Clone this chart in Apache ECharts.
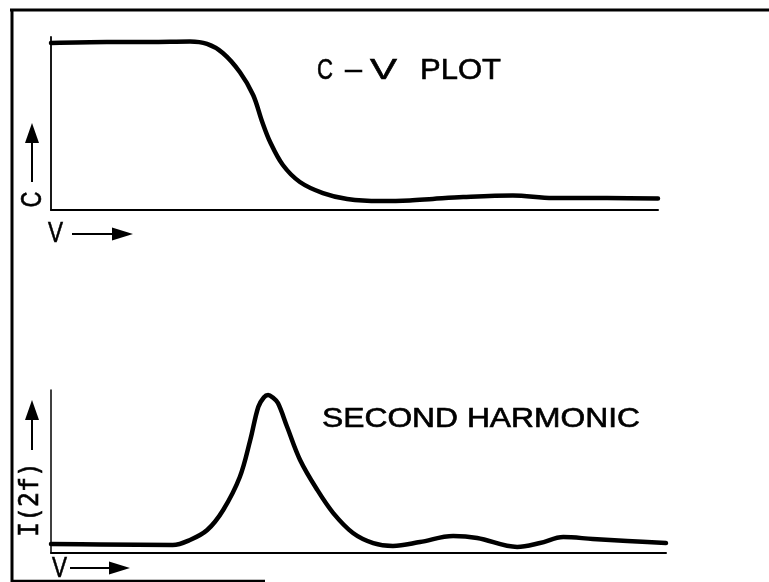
<!DOCTYPE html>
<html>
<head>
<meta charset="utf-8">
<script src="https://cdn.jsdelivr.net/npm/echarts@6/dist/echarts.min.js"></script>
<style>
  html, body { margin: 0; padding: 0; background: #fff; }
  #chart { width: 769px; height: 582px; }
</style>
</head>
<body>
<div id="chart"></div>
<script>
// C-V curve: bias voltage (arbitrary units, 0-100) vs. capacitance (% of full scale)
const cvVoltage = [0, 9.2, 16.3, 22.9, 25.7, 28.3, 31.1, 33.3, 34.8, 36.1, 38.2, 41.0, 44.8, 48.8, 54.2, 59.1, 62.9, 67.9, 76.1, 82.7, 91.6, 100];
const cvCapacitance = [96.5, 97.1, 97.1, 97.4, 96.0, 90.8, 79.8, 66.5, 50.9, 39.3, 26.0, 16.2, 9.8, 6.4, 5.2, 5.5, 6.4, 7.5, 8.4, 6.9, 6.9, 6.6];

// Second-harmonic current I(2f) over the same bias sweep
const shVoltage = [0, 8.0, 19.8, 22.6, 25.4, 28.0, 30.7, 32.4, 33.7, 34.6, 35.3, 36.0, 36.9, 38.4, 40.5, 43.3, 45.9, 49.1, 52.4, 55.6, 60.0, 65.4, 69.3, 75.8, 79.5, 83.3, 88.1, 93.7, 100];
const shCurrent = [5.5, 5.2, 4.9, 8.0, 14.1, 26.4, 46.6, 69.3, 89.6, 95.4, 96.9, 95.6, 92.0, 77.3, 57.1, 38.7, 24.5, 12.3, 6.1, 4.3, 6.7, 10.4, 9.2, 3.7, 6.1, 9.8, 8.6, 7.4, 6.1];

const plotTitle = ['C', '–', 'V', 'PLOT'];
const harmonicTitle = 'SECOND HARMONIC';
const capAxisName = 'C';
const currentAxisName = 'I(2f)';
const voltageAxisName = 'V';

const ink = '#000';
const sans = 'Liberation Sans';
const mono = 'DejaVu Sans Mono';

const measureCtx = document.createElement('canvas').getContext('2d');
function fitScale(text, size, family, width) {
  measureCtx.font = size + 'px "' + family + '"';
  return width / measureCtx.measureText(text).width;
}

// Centered text, stretched horizontally to a given width
function label(text, cx, cy, size, width, rotation, family) {
  family = family || sans;
  return {
    type: 'text', x: cx, y: cy, rotation: rotation || 0,
    scaleX: fitScale(text, size, family, width),
    style: {
      text: text, fontSize: size, fontFamily: family, fill: ink,
      stroke: ink, lineWidth: 0.6,
      align: 'center', verticalAlign: 'middle',
      textAlign: 'center', textVerticalAlign: 'middle'
    },
    silent: true
  };
}

function segment(x1, y1, x2, y2, w) {
  return { type: 'line', shape: { x1, y1, x2, y2 }, style: { stroke: ink, lineWidth: w || 2 }, silent: true };
}

function arrowUp(x, yBottom, yTip) {
  return [
    segment(x, yBottom, x, yTip + 8, 2),
    { type: 'polygon', shape: { points: [[x, yTip], [x - 7, yTip + 20], [x + 7, yTip + 20]] }, style: { fill: ink }, silent: true }
  ];
}

function arrowRight(y, xStart, xTip) {
  return [
    segment(xStart, y, xTip - 8, y, 2),
    { type: 'polygon', shape: { points: [[xTip, y], [xTip - 21, y - 6.5], [xTip - 21, y + 6.5]] }, style: { fill: ink }, silent: true }
  ];
}

const pairs = (xs, ys) => xs.map((x, i) => [x, ys[i]]);

const hiddenAxisBits = {
  axisLabel: { show: false },
  axisTick: { show: false },
  splitLine: { show: false }
};

const titleX = [325, 353.5, 383.5, 460.5];
const titleW = [16, 17, 27, 81];

const graphics = [
  // frame
  segment(10, 10, 769, 10, 3),
  segment(12, 9, 12, 582, 3),
  segment(11, 581, 265, 581, 2.5),
  // C-V plot heading
  ...plotTitle.map((t, i) => label(t, titleX[i], 71, 30, titleW[i])),
  // second harmonic heading
  label(harmonicTitle, 481, 420, 27, 318),
  // upper axis names
  label(capAxisName, 32.5, 199.5, 29, 15.6, Math.PI / 2),
  ...arrowUp(32, 182, 123),
  label(voltageAxisName, 55.5, 234, 30, 15),
  ...arrowRight(234, 72, 133),
  // lower axis names
  label(currentAxisName, 31.5, 499.5, 26, 75, Math.PI / 2, mono),
  ...arrowUp(32, 450, 400),
  label(voltageAxisName, 59.5, 569, 30, 15),
  ...arrowRight(568, 70, 130)
];

const chart = echarts.init(document.getElementById('chart'), null, { renderer: 'canvas' });
chart.setOption({
  backgroundColor: '#fff',
  animation: false,
  grid: [
    { left: 51, top: 37, width: 607, height: 173 },
    { left: 51, top: 390, width: 615, height: 163 }
  ],
  xAxis: [
    { type: 'value', gridIndex: 0, min: 0, max: 100, axisLine: { show: true, onZero: false, lineStyle: { color: ink, width: 2 } }, ...hiddenAxisBits },
    { type: 'value', gridIndex: 1, min: 0, max: 100, axisLine: { show: true, onZero: false, lineStyle: { color: ink, width: 2 } }, ...hiddenAxisBits }
  ],
  yAxis: [
    { type: 'value', gridIndex: 0, min: 0, max: 100, axisLine: { show: true, onZero: false, lineStyle: { color: ink, width: 1.8 } }, ...hiddenAxisBits },
    { type: 'value', gridIndex: 1, min: 0, max: 100, axisLine: { show: true, onZero: false, lineStyle: { color: ink, width: 1.5 } }, ...hiddenAxisBits }
  ],
  series: [
    {
      type: 'line', xAxisIndex: 0, yAxisIndex: 0,
      data: pairs(cvVoltage, cvCapacitance),
      smooth: 0.35, showSymbol: false, silent: true,
      lineStyle: { color: ink, width: 4.5, cap: 'round', join: 'round' }
    },
    {
      type: 'line', xAxisIndex: 1, yAxisIndex: 1,
      data: pairs(shVoltage, shCurrent),
      smooth: 0.35, showSymbol: false, silent: true,
      lineStyle: { color: ink, width: 4.5, cap: 'round', join: 'round' }
    }
  ],
  graphic: { elements: graphics }
});
</script>
</body>
</html>
